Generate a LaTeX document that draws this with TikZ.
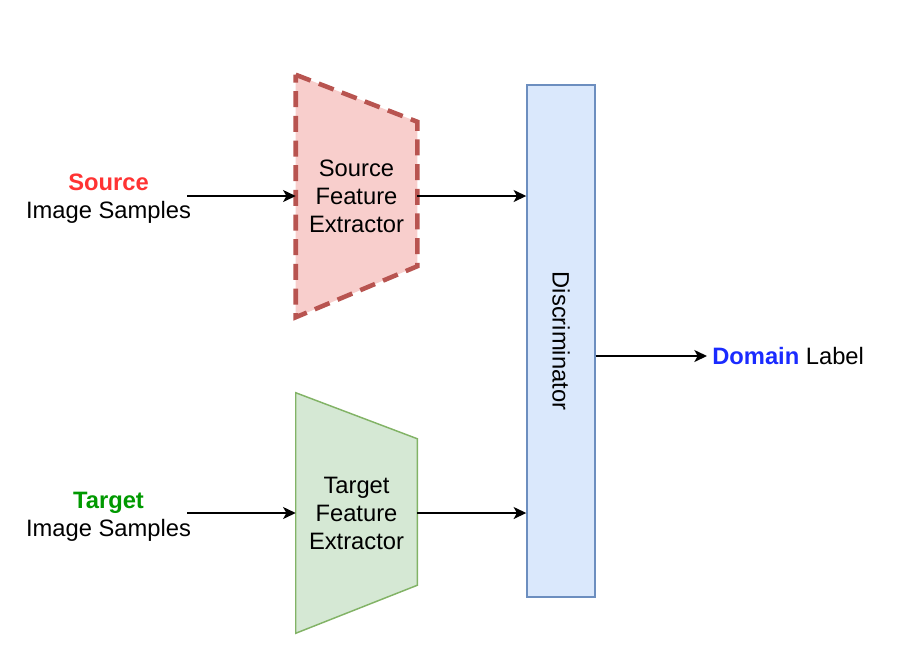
\documentclass[tikz,border=0pt]{standalone}
\usepackage{fontspec}
\setmainfont{Liberation Sans}
\usetikzlibrary{arrows.meta,backgrounds}

\definecolor{srcfill}{HTML}{F8CECC}
\definecolor{srcline}{HTML}{B85450}
\definecolor{tgtfill}{HTML}{D5E8D4}
\definecolor{tgtline}{HTML}{82B366}
\definecolor{discfill}{HTML}{DAE8FC}
\definecolor{discline}{HTML}{6C8EBF}
\definecolor{srcred}{HTML}{FF3333}
\definecolor{tgtgreen}{HTML}{009900}
\definecolor{domblue}{HTML}{1A2BFF}

\tikzset{
  txt/.style={align=center, inner sep=0pt, font=\fontsize{17.8}{21}\selectfont},
  featbox/.style={txt, minimum width=90.75pt},
  arr/.style={-{Stealth[length=9.5pt,width=9pt,inset=2.5pt]}, line width=1.1pt},
}

\begin{document}
\begin{tikzpicture}[x=0.75pt,y=-0.75pt]
            \useasboundingbox (0,0) rectangle (918,662);

            % inputs
            \node[txt] (srcin) at (108.5,199) {\textcolor{srcred}{\textbf{Source}}\\Image Samples};
            \node[txt] (tgtin) at (108.5,517) {\textcolor{tgtgreen}{\textbf{Target}}\\Image Samples};

            % feature extractors
            \node[featbox, minimum height=181.5pt] (src) at (356.5,196) {Source\\Feature\\Extractor};
            \node[featbox, minimum height=180pt] (tgt) at (356.5,513) {Target\\Feature\\Extractor};

            % discriminator
            \node[draw=discline, fill=discfill, line width=1.1pt, minimum width=51pt, minimum height=384pt,
                  inner sep=0pt] (disc) at (561,341) {};
            \node[txt, rotate=-90] (disclbl) at (disc.center) {Discriminator};

            % output
            \node[txt, anchor=west] (dom) at (712,356) {\textcolor{domblue}{\textbf{Domain}} Label};

            \begin{scope}[on background layer]
              \draw[fill=srcfill, draw=srcline, line width=3.4pt, dash pattern=on 12pt off 6.5pt]
                (src.north west) -- ([yshift=-35.25pt]src.north east)
                -- ([yshift=38.25pt]src.south east) -- (src.south west) -- cycle;
              \draw[fill=tgtfill, draw=tgtline, line width=1.1pt]
                (tgt.north west) -- ([yshift=-34.5pt]tgt.north east)
                -- ([yshift=36pt]tgt.south east) -- (tgt.south west) -- cycle;
            \end{scope}

            \draw[arr] ([xshift=-3pt]srcin.east |- src.west) -- (src.west);
            \draw[arr] ([xshift=-3pt]tgtin.east |- tgt.west) -- (tgt.west);
            \draw[arr] (src.east) -- (src.east -| disc.west);
            \draw[arr] (tgt.east) -- (tgt.east -| disc.west);
            \draw[arr] (disc.east |- dom.west) -- ([xshift=-3.75pt]dom.west);
        \end{tikzpicture}
\end{document}
